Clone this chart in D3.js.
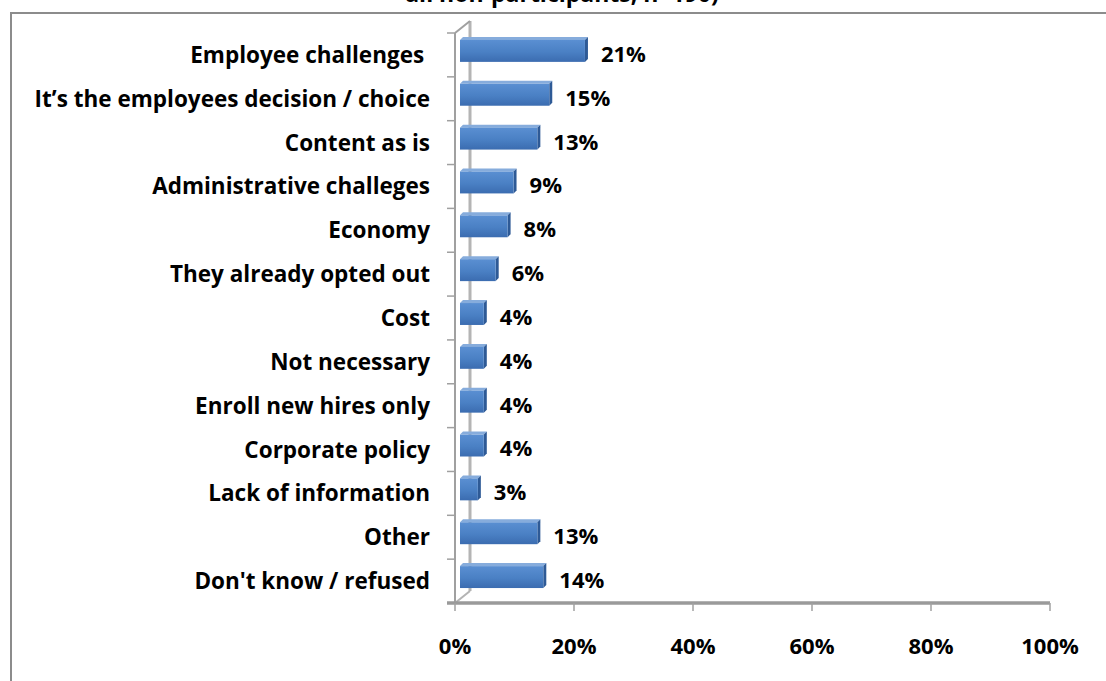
<!DOCTYPE html>
<html>
<head>
<meta charset="utf-8">
<script src="https://cdn.jsdelivr.net/npm/d3@7"></script>
<style>
  body { margin: 0; background: #fff; }
  text { font-family: "Open Sans", "Noto Sans", sans-serif; font-weight: bold; fill: #000; }
</style>
</head>
<body>
<svg id="chart" width="1106" height="681"></svg>
<script>
// Chart data
const categories = [
  "Employee challenges ",
  "It\u2019s the employees decision / choice",
  "Content as is",
  "Administrative challeges",
  "Economy",
  "They already opted out",
  "Cost",
  "Not necessary",
  "Enroll new hires only",
  "Corporate policy",
  "Lack of information",
  "Other",
  "Don't know / refused"
];
const values = [0.21, 0.15, 0.13, 0.09, 0.08, 0.06, 0.04, 0.04, 0.04, 0.04, 0.03, 0.13, 0.14];
const tickValues = [0, 0.2, 0.4, 0.6, 0.8, 1.0];
const titleText = "all non-participants, n=190)";

const svg = d3.select("#chart");

// layout of the plot (front plane of the 3D box)
const plotLeft = 455, plotRight = 1050, plotTop = 33, plotBottom = 603;
const depthX = 15, depthY = -12;   // how far the back wall sits from the front

const x = d3.scaleLinear().domain([0, 1]).range([plotLeft, plotRight]);
const y = d3.scaleBand().domain(categories).range([plotTop, plotBottom]).paddingInner(0.5).paddingOuter(0.25);

// outer chart border (runs off the right/bottom edge)
svg.append("rect")
  .attr("x", 11).attr("y", 13)
  .attr("width", 1200).attr("height", 800)
  .attr("fill", "none")
  .attr("stroke", "#8c8c8c")
  .attr("stroke-width", 2);

// title (cut off at the top, as in the source)
svg.append("text")
  .attr("x", 562).attr("y", 1.5)
  .attr("text-anchor", "middle")
  .style("font-size", "23px")
  .text(titleText);

const grey = "#a0a0a0";

// side wall: front and back verticals, top edge
const wall = svg.append("g");
wall.append("line")
  .attr("x1", plotLeft).attr("x2", plotLeft)
  .attr("y1", plotTop).attr("y2", plotBottom)
  .attr("stroke", grey).attr("stroke-width", 2);
wall.append("line")
  .attr("x1", plotLeft + depthX).attr("x2", plotLeft + depthX)
  .attr("y1", plotTop + depthY).attr("y2", plotBottom + depthY)
  .attr("stroke", "#b4b4b4").attr("stroke-width", 3);
wall.append("line")
  .attr("x1", plotLeft).attr("x2", plotLeft + depthX)
  .attr("y1", plotTop).attr("y2", plotTop + depthY)
  .attr("stroke", grey).attr("stroke-width", 2);
wall.append("line")
  .attr("x1", plotLeft).attr("x2", plotLeft + depthX)
  .attr("y1", plotBottom).attr("y2", plotBottom + depthY)
  .attr("stroke", "#b4b4b4").attr("stroke-width", 2);

// tick marks on the category axis, between the bands
const catTicks = d3.range(categories.length + 1).map(i => plotTop + i * (plotBottom - plotTop) / categories.length);
wall.selectAll(".ctick")
  .data(catTicks)
  .enter().append("line")
  .attr("x1", plotLeft - 8).attr("x2", plotLeft)
  .attr("y1", d => d).attr("y2", d => d)
  .attr("stroke", grey).attr("stroke-width", 1.5);

// floor line + x axis ticks
svg.append("line")
  .attr("x1", plotLeft - 8).attr("x2", plotRight)
  .attr("y1", plotBottom).attr("y2", plotBottom)
  .attr("stroke", "#9a9a9a").attr("stroke-width", 3.5);

svg.selectAll(".xtick")
  .data(tickValues)
  .enter().append("line")
  .attr("x1", d => x(d)).attr("x2", d => x(d))
  .attr("y1", plotBottom).attr("y2", plotBottom + 8)
  .attr("stroke", grey).attr("stroke-width", 1.5);

svg.selectAll(".xlabel")
  .data(tickValues)
  .enter().append("text")
  .attr("x", d => x(d))
  .attr("y", 654)
  .attr("text-anchor", "middle")
  .style("font-size", "22px")
  .text(d => d3.format(".0%")(d));

// gradient for the bar fronts
const defs = svg.append("defs");
const grad = defs.append("linearGradient")
  .attr("id", "barGrad")
  .attr("x1", 0).attr("y1", 0).attr("x2", 0).attr("y2", 1);
grad.append("stop").attr("offset", "0%").attr("stop-color", "#5a8fd2");
grad.append("stop").attr("offset", "55%").attr("stop-color", "#4a80c4");
grad.append("stop").attr("offset", "100%").attr("stop-color", "#3b6cb0");

// bars drawn in the middle of the depth
const barDX = 5, barDY = -4, barDepth = 3;
const bars = svg.selectAll(".bar")
  .data(categories.map((c, i) => ({ name: c, value: values[i] })))
  .enter().append("g");

// top face
bars.append("path")
  .attr("d", d => {
    const x0 = x(0) + barDX, x1 = x(d.value) + barDX, y0 = y(d.name) + barDY;
    return `M${x0},${y0} L${x0 + barDepth},${y0 - barDepth} L${x1 + barDepth},${y0 - barDepth} L${x1},${y0} Z`;
  })
  .attr("fill", "#86acdc");

// right end cap
bars.append("path")
  .attr("d", d => {
    const x1 = x(d.value) + barDX, y0 = y(d.name) + barDY, y1 = y0 + y.bandwidth();
    return `M${x1},${y0} L${x1 + barDepth},${y0 - barDepth} L${x1 + barDepth},${y1 - barDepth} L${x1},${y1} Z`;
  })
  .attr("fill", "#2e5a96");

// front face
bars.append("rect")
  .attr("x", x(0) + barDX)
  .attr("y", d => y(d.name) + barDY)
  .attr("width", d => x(d.value) - x(0))
  .attr("height", y.bandwidth())
  .attr("fill", "url(#barGrad)");

// value labels
bars.append("text")
  .attr("x", d => x(d.value) + barDX + 16)
  .attr("y", d => y(d.name) + y.bandwidth() / 2 + 1)
  .attr("dominant-baseline", "middle")
  .style("font-size", "22px")
  .text(d => d3.format(".0%")(d.value));

// category labels
svg.selectAll(".clabel")
  .data(categories)
  .enter().append("text")
  .attr("x", 430)
  .attr("y", d => y(d) + y.bandwidth() / 2 + 2)
  .attr("dominant-baseline", "middle")
  .attr("text-anchor", "end")
  .attr("xml:space", "preserve")
  .style("white-space", "pre")
  .style("font-size", "22.5px")
  .text(d => d);
</script>
</body>
</html>
